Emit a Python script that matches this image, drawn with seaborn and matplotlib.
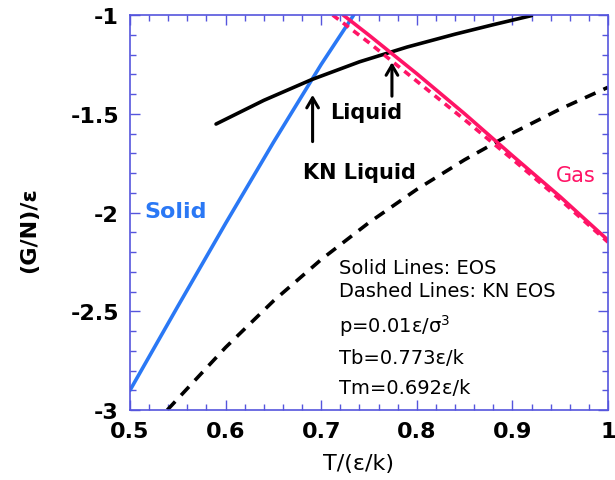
import matplotlib
matplotlib.use("Agg")
import matplotlib.pyplot as plt
import seaborn as sns
import pandas as pd
import numpy as np
from matplotlib.ticker import MultipleLocator

# ---- data ----
solid_T = [0.50, 0.55, 0.60, 0.65, 0.70, 0.734]
solid_G = [-2.90, -2.475, -2.055, -1.645, -1.25, -1.0]

liquid_T = [0.59, 0.64, 0.69, 0.74, 0.79, 0.84, 0.88, 0.92]
liquid_G = [-1.552, -1.432, -1.327, -1.237, -1.162, -1.097, -1.049, -1.003]

kn_liquid_T = [0.539, 0.60, 0.65, 0.70, 0.75, 0.80, 0.85, 0.90, 0.95, 1.0]
kn_liquid_G = [-3.0, -2.683, -2.448, -2.238, -2.051, -1.883, -1.733, -1.598, -1.476, -1.366]

gas_T = [0.723, 0.75, 0.80, 0.85, 0.90, 0.95, 1.0]
gas_G = [-1.0, -1.102, -1.297, -1.50, -1.712, -1.92, -2.14]

kn_gas_T = [0.712, 0.75, 0.80, 0.85, 0.90, 0.95, 1.0]
kn_gas_G = [-1.0, -1.14, -1.335, -1.53, -1.73, -1.935, -2.15]

x_ticks = [0.5, 0.6, 0.7, 0.8, 0.9, 1.0]
x_ticklabels = ["0.5", "0.6", "0.7", "0.8", "0.9", "1"]
y_ticks = [-3, -2.5, -2, -1.5, -1]
y_ticklabels = ["-3", "-2.5", "-2", "-1.5", "-1"]

BLUE = "#2a78f5"
PINK = "#ff1466"
FRAME = "#5555dd"

sns.set_theme(style="ticks")
plt.rcParams["font.family"] = ["DejaVu Sans"]
plt.rcParams["axes.unicode_minus"] = False
plt.rcParams["text.color"] = "black"
plt.rcParams["axes.labelcolor"] = "black"
plt.rcParams["xtick.labelcolor"] = "black"
plt.rcParams["ytick.labelcolor"] = "black"

fig = plt.figure(figsize=(6.15, 4.81), dpi=100)
ax = fig.add_axes([0.2114, 0.1455, 0.9886 - 0.2114, 0.9667 - 0.1455])

lw = 2.6
sns.lineplot(x=solid_T, y=solid_G, ax=ax, color=BLUE, lw=lw, sort=False)
sns.lineplot(x=liquid_T, y=liquid_G, ax=ax, color="black", lw=lw, sort=False)
sns.lineplot(x=kn_liquid_T, y=kn_liquid_G, ax=ax, color="black", lw=lw, sort=False,
             linestyle=(0, (3.2, 2.4)))
sns.lineplot(x=gas_T, y=gas_G, ax=ax, color=PINK, lw=lw, sort=False)
sns.lineplot(x=kn_gas_T, y=kn_gas_G, ax=ax, color=PINK, lw=lw, sort=False,
             linestyle=(0, (2.0, 1.6)))

ax.set_xlim(0.5, 1.0)
ax.set_ylim(-3, -1)
ax.set_xticks(x_ticks)
ax.set_xticklabels(x_ticklabels)
ax.set_yticks(y_ticks)
ax.set_yticklabels(y_ticklabels)
ax.xaxis.set_minor_locator(MultipleLocator(0.02))
ax.yaxis.set_minor_locator(MultipleLocator(0.1))
ax.tick_params(which="both", direction="in", top=True, right=True, color=FRAME, width=1.0,
               labelcolor="black")
ax.tick_params(which="major", length=7, labelsize=16, pad=8)
ax.tick_params(which="minor", length=4)
for lab in ax.get_xticklabels() + ax.get_yticklabels():
    lab.set_fontweight("bold")
for sp in ax.spines.values():
    sp.set_color(FRAME)
    sp.set_linewidth(1.2)

ax.set_xlabel("T/(ε/k)", fontsize=16, color="black")
ax.set_ylabel("(G/N)/ε", fontsize=16, fontweight="bold", color="black")
ax.xaxis.set_label_coords(0.477, -0.108)
ax.yaxis.set_label_coords(-0.19, 0.458)

# labels
ax.text(0.515, -1.99, "Solid", color=BLUE, fontsize=16, fontweight="bold", ha="left", va="center")
ax.text(0.709, -1.49, "Liquid", color="black", fontsize=15, fontweight="bold", ha="left", va="center")
ax.text(0.681, -1.795, "KN Liquid", color="black", fontsize=15, fontweight="bold", ha="left", va="center")
ax.text(0.946, -1.81, "Gas", color=PINK, fontsize=15, ha="left", va="center")

ax.annotate("", xy=(0.691, -1.39), xytext=(0.691, -1.655),
            arrowprops=dict(arrowstyle="->,head_length=0.6,head_width=0.35", color="black", lw=2.2))
ax.annotate("", xy=(0.774, -1.225), xytext=(0.774, -1.425),
            arrowprops=dict(arrowstyle="->,head_length=0.6,head_width=0.35", color="black", lw=2.2))

tx = 0.7186
ax.text(tx, -2.276, "Solid Lines: EOS", fontsize=14, ha="left", va="center", color="black")
ax.text(tx, -2.397, "Dashed Lines: KN EOS", fontsize=14, ha="left", va="center", color="black")
ax.text(tx, -2.57, r"p=0.01ε/σ$^3$", fontsize=14, ha="left", va="center", color="black")
ax.text(tx, -2.732, "Tb=0.773ε/k", fontsize=14, ha="left", va="center", color="black")
ax.text(tx, -2.884, "Tm=0.692ε/k", fontsize=14, ha="left", va="center", color="black")

fig.savefig("out.png", dpi=100)
